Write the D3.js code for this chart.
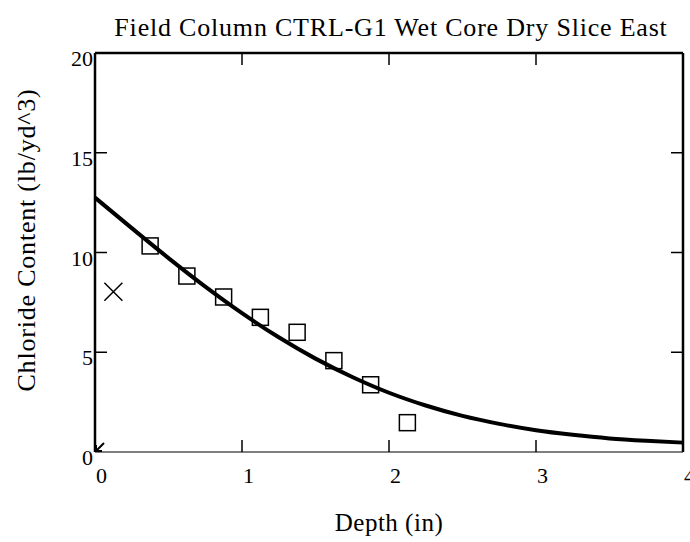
<!DOCTYPE html>
<html>
<head>
<meta charset="utf-8">
<script src="https://cdn.jsdelivr.net/npm/d3@7"></script>
<style>
  body { margin: 0; background: #fff; }
  svg text { font-family: "Liberation Serif", "Times New Roman", serif; fill: #000; }
</style>
</head>
<body>
<div id="chart"></div>
<script>
// slice depths and measured chloride
const sliceDepth = [0.375, 0.625, 0.875, 1.125, 1.375, 1.625, 1.875, 2.125]
const sliceChloride = [10.33, 8.82, 7.77, 6.75, 6.0, 4.58, 3.37, 1.47]
// surface slice, excluded (x marker)
const excludedDepth = [0.125]
const excludedChloride = [8.03]
// fitted profile
const fitDepth = [0, 0.25, 0.5, 0.75, 1, 1.25, 1.5, 1.75, 2, 2.25, 2.5, 2.75, 3, 3.25, 3.5, 3.75, 4]
const fitChloride = [12.75, 11.22, 9.72, 8.29, 6.96, 5.75, 4.68, 3.76, 2.97, 2.33, 1.81, 1.41, 1.09, 0.86, 0.68, 0.56, 0.47]
const xTicks = [0, 1, 2, 3, 4]
const yTicks = [0, 5, 10, 15, 20]

let width = 690,
    height = 542,
    margin = {top: 53, left: 95, right: 7, bottom: 90}

let svg = d3.select('#chart')
    .append('svg')
    .attr('width', width)
    .attr('height', height)

let x = d3.scaleLinear()
    .domain([0, 4])
    .range([margin.left, width - margin.right])
let y = d3.scaleLinear()
    .domain([0, 20])
    .range([height - margin.bottom, margin.top])

let x0 = x.range()[0], x1 = x.range()[1],
    y0 = y.range()[0], y1 = y.range()[1]

// title
svg.append('text')
    .attr('x', (x0 + x1) / 2 + 2)
    .attr('y', 36)
    .attr('text-anchor', 'middle')
    .attr('font-size', '26px')
    .attr('letter-spacing', '0.8px')
    .text('Field Column CTRL-G1 Wet Core Dry Slice East')

// inner ticks on all four sides
let tickLen = 12
xTicks.slice(1, -1).forEach(v => {
    svg.append('line').attr('x1', x(v)).attr('x2', x(v)).attr('y1', y0).attr('y2', y0 - tickLen)
        .attr('stroke', '#000').attr('stroke-width', 1.5)
    svg.append('line').attr('x1', x(v)).attr('x2', x(v)).attr('y1', y1).attr('y2', y1 + tickLen)
        .attr('stroke', '#000').attr('stroke-width', 1.5)
})
yTicks.slice(1, -1).forEach(v => {
    svg.append('line').attr('x1', x0).attr('x2', x0 + tickLen).attr('y1', y(v)).attr('y2', y(v))
        .attr('stroke', '#000').attr('stroke-width', 1.5)
    svg.append('line').attr('x1', x1).attr('x2', x1 - tickLen).attr('y1', y(v)).attr('y2', y(v))
        .attr('stroke', '#000').attr('stroke-width', 1.5)
})

// frame
svg.append('line').attr('x1', x0).attr('x2', x1).attr('y1', y1).attr('y2', y1)
    .attr('stroke', '#000').attr('stroke-width', 2.5)
svg.append('line').attr('x1', x0).attr('x2', x0).attr('y1', y1).attr('y2', y0)
    .attr('stroke', '#000').attr('stroke-width', 2.5)
svg.append('line').attr('x1', x1).attr('x2', x1).attr('y1', y1).attr('y2', y0)
    .attr('stroke', '#000').attr('stroke-width', 2.5)
svg.append('line').attr('x1', x0).attr('x2', x1).attr('y1', y0).attr('y2', y0)
    .attr('stroke', '#000').attr('stroke-width', 1.2)

// tick labels
svg.selectAll('.xlab')
    .data(xTicks)
    .enter()
    .append('text')
    .attr('class', 'xlab')
    .attr('x', d => x(d) + 1)
    .attr('y', y0 + 31)
    .attr('font-size', '22px')
    .text(d => d)

svg.selectAll('.ylab')
    .data(yTicks)
    .enter()
    .append('text')
    .attr('class', 'ylab')
    .attr('x', x0 - 2)
    .attr('y', d => y(d) + 13)
    .attr('text-anchor', 'end')
    .attr('font-size', '22px')
    .text(d => d)

// axis titles
svg.append('text')
    .attr('x', (x0 + x1) / 2)
    .attr('y', 531)
    .attr('text-anchor', 'middle')
    .attr('font-size', '25px')
    .attr('letter-spacing', '0.5px')
    .text('Depth (in)')

svg.append('text')
    .attr('transform', 'translate(35,' + 240 + ') rotate(-90)')
    .attr('text-anchor', 'middle')
    .attr('font-size', '26px')
    .attr('letter-spacing', '0.8px')
    .text('Chloride Content (lb/yd^3)')

// small origin arrow
svg.append('path')
    .attr('d', 'M' + (x0 + 9) + ',' + (y0 - 9) + 'L' + (x0 + 1) + ',' + (y0 - 1)
        + 'M' + (x0 + 1) + ',' + (y0 - 7) + 'L' + (x0 + 1) + ',' + (y0 - 1) + 'L' + (x0 + 7) + ',' + (y0 - 1))
    .attr('fill', 'none')
    .attr('stroke', '#000')
    .attr('stroke-width', 2)

// fitted curve
let fit = fitDepth.map((d, i) => ({x: d, y: fitChloride[i]}))
let line = d3.line()
    .x(d => x(d.x))
    .y(d => y(d.y))
    .curve(d3.curveMonotoneX)

svg.append('path')
    .datum(fit)
    .attr('d', line)
    .attr('fill', 'none')
    .attr('stroke', '#000')
    .attr('stroke-width', 4)

// squares
let sq = 16
svg.selectAll('.sq')
    .data(sliceDepth)
    .enter()
    .append('rect')
    .attr('class', 'sq')
    .attr('x', d => x(d) - sq / 2)
    .attr('y', (d, i) => y(sliceChloride[i]) - sq / 2)
    .attr('width', sq)
    .attr('height', sq)
    .attr('fill', 'none')
    .attr('stroke', '#000')
    .attr('stroke-width', 1.5)

// x marker
let xs = 9
svg.selectAll('.xm')
    .data(excludedDepth)
    .enter()
    .append('path')
    .attr('class', 'xm')
    .attr('d', (d, i) => {
        let cx = x(d), cy = y(excludedChloride[i])
        return 'M' + (cx - xs) + ',' + (cy - xs) + 'L' + (cx + xs) + ',' + (cy + xs)
            + 'M' + (cx - xs) + ',' + (cy + xs) + 'L' + (cx + xs) + ',' + (cy - xs)
    })
    .attr('fill', 'none')
    .attr('stroke', '#000')
    .attr('stroke-width', 1.5)
</script>
</body>
</html>
